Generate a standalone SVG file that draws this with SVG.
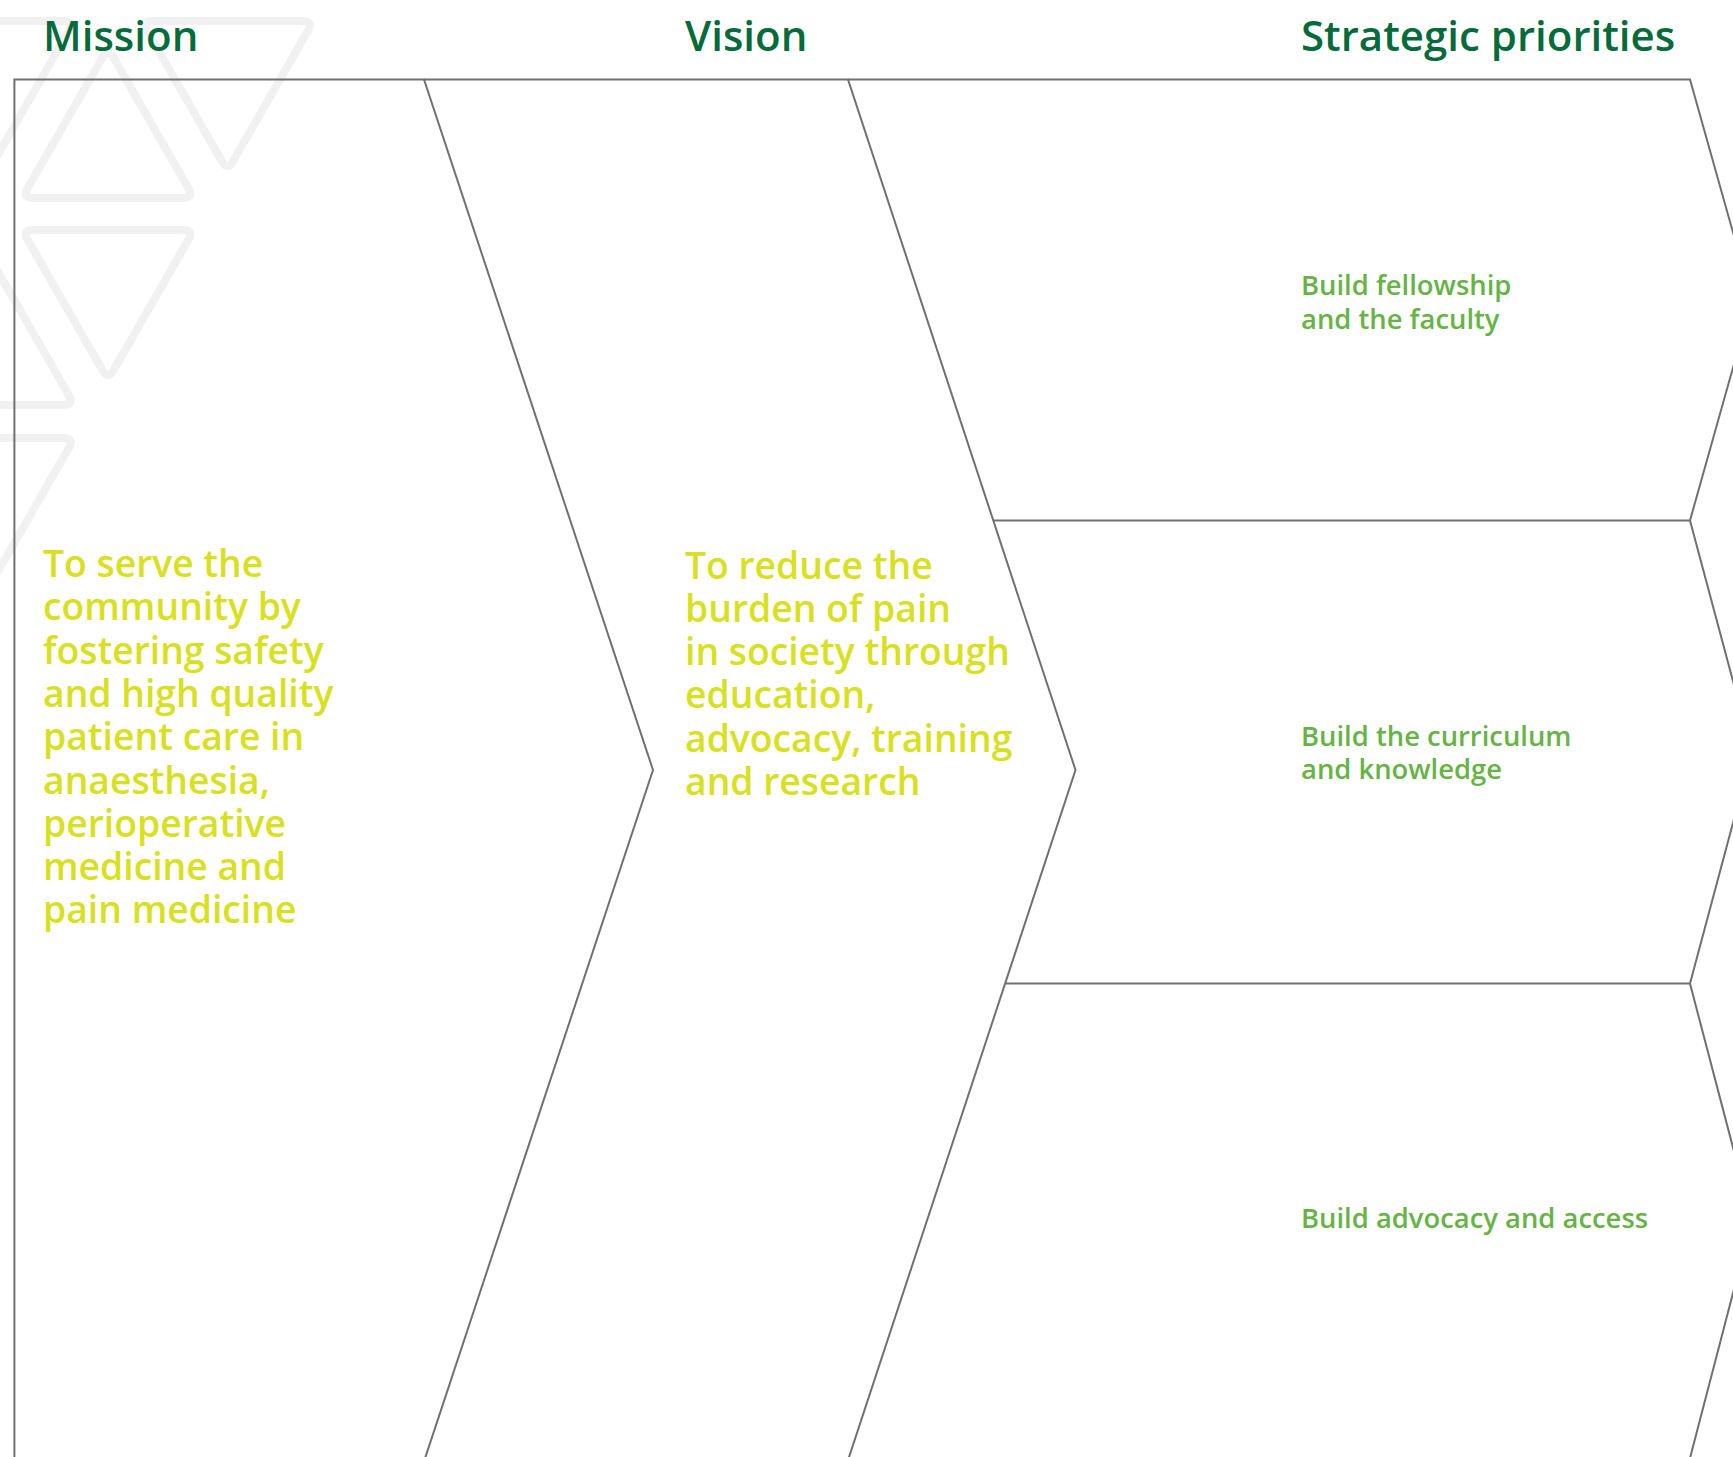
<svg xmlns="http://www.w3.org/2000/svg" width="1733" height="1457" viewBox="0 0 1733 1457">
<style>
  .bg { fill: #ffffff; }
  .wm { fill: none; stroke: #f1f1f1; stroke-width: 8; stroke-linejoin: round; }
  .edge { fill: none; stroke: #707070; stroke-width: 2; stroke-linejoin: miter; }
  .title { font-family: "Open Sans", "Liberation Sans", sans-serif; font-size: 42px; font-weight: 600; fill: #066b3a; }
  .body { font-family: "Open Sans", "Liberation Sans", sans-serif; font-size: 37.3px; font-weight: 600; fill: #d8e022; }
  .prio { font-family: "Open Sans", "Liberation Sans", sans-serif; font-size: 27.4px; font-weight: 600; fill: #66b346; }
</style>
<defs>
  <path id="triDown" d="M-75,0 H75 Q86,0 80.53,9.54 L5.47,140.46 Q0,150 -5.47,140.46 L-80.53,9.54 Q-86,0 -75,0 Z"/>
  <path id="triUp" d="M-75,0 H75 Q86,0 80.53,-9.54 L5.47,-140.46 Q0,-150 -5.47,-140.46 L-80.53,-9.54 Q-86,0 -75,0 Z"/>
</defs>
<rect class="bg" x="0" y="0" width="1733" height="1457"/>

<g id="watermark">
  <use class="wm" href="#triDown" transform="translate(-11.5,21)"/>
  <use class="wm" href="#triDown" transform="translate(227.5,21)"/>
  <use class="wm" href="#triUp" transform="translate(108,198)"/>
  <use class="wm" href="#triDown" transform="translate(108,230)"/>
  <use class="wm" href="#triUp" transform="translate(-11.5,405)"/>
  <use class="wm" href="#triDown" transform="translate(-11.5,438)"/>
</g>

<g id="headers">
  <text class="title" x="43" y="51">Mission</text>
  <text class="title" x="685" y="51">Vision</text>
  <text class="title" x="1301" y="51">Strategic priorities</text>
</g>

<g id="mission">
  <path class="edge" d="M14.4,1462 V79.5 H424 L653,770 L423.8,1462"/>
  <text class="body">
    <tspan x="43" y="577">To serve the</tspan>
    <tspan x="43" y="620.3">community by</tspan>
    <tspan x="43" y="663.6">fostering safety</tspan>
    <tspan x="43" y="706.9">and high quality</tspan>
    <tspan x="43" y="750.2">patient care in</tspan>
    <tspan x="43" y="793.5">anaesthesia,</tspan>
    <tspan x="43" y="836.8">perioperative</tspan>
    <tspan x="43" y="880.1">medicine and</tspan>
    <tspan x="43" y="923.4">pain medicine</tspan>
  </text>
</g>

<g id="vision">
  <path class="edge" d="M424,79.5 H848 L1075.5,770 L847.4,1462"/>
  <text class="body">
    <tspan x="685" y="578.5">To reduce the</tspan>
    <tspan x="685" y="621.8">burden of pain</tspan>
    <tspan x="685" y="665.1">in society through</tspan>
    <tspan x="685" y="708.4">education,</tspan>
    <tspan x="685" y="751.7">advocacy, training</tspan>
    <tspan x="685" y="795">and research</tspan>
  </text>
</g>

<g id="priority-1">
  <path class="edge" d="M848,79.5 H1690 L1752,300 L1690,520.5 H993.3"/>
  <text class="prio">
    <tspan x="1301" y="295">Build fellowship</tspan>
    <tspan x="1301" y="328.5">and the faculty</tspan>
  </text>
</g>

<g id="priority-2">
  <path class="edge" d="M1690,520.5 L1752,752 L1690,983.6 H1005"/>
  <text class="prio">
    <tspan x="1301" y="746">Build the curriculum</tspan>
    <tspan x="1301" y="779">and knowledge</tspan>
  </text>
</g>

<g id="priority-3">
  <path class="edge" d="M1690,983.6 L1752,1220 L1689,1462"/>
  <text class="prio" x="1301" y="1228">Build advocacy and access</text>
</g>

<g id="connectors"></g>
</svg>
